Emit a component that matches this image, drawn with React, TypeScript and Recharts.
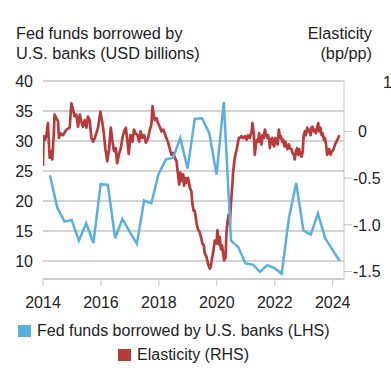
import { CartesianGrid, Line, LineChart, XAxis, YAxis } from "recharts";

// quarterly fed funds borrowed by U.S. banks, USD billions
const fundsQuarters = [
  "2014Q1", "2014Q2", "2014Q3", "2014Q4", "2015Q1", "2015Q2", "2015Q3", "2015Q4",
  "2016Q1", "2016Q2", "2016Q3", "2016Q4", "2017Q1", "2017Q2", "2017Q3", "2017Q4",
  "2018Q1", "2018Q2", "2018Q3", "2018Q4", "2019Q1", "2019Q2", "2019Q3", "2019Q4",
  "2020Q1", "2020Q2", "2020Q3", "2020Q4", "2021Q1", "2021Q2", "2021Q3", "2021Q4",
  "2022Q1", "2022Q2", "2022Q3", "2022Q4", "2023Q1", "2023Q2", "2023Q3", "2023Q4",
  "2024Q1",
];
const fundsBorrowed = [
  24.3, 18.9, 16.6, 16.8, 13.4, 16.3, 13.0, 22.8,
  22.7, 13.8, 17.0, 14.9, 12.9, 20.1, 19.6, 24.5,
  26.9, 27.2, 30.5, 25.4, 33.7, 33.8, 31.3, 24.4,
  36.5, 13.4, 12.3, 9.6, 9.4, 8.2, 9.3, 8.8,
  7.9, 17.2, 23.0, 15.1, 14.4, 17.9, 13.8, 11.9,
  10.0,
];

// elasticity (bp/pp), decimal years
const elasticityDates = [
  2014.0, 2014.02, 2014.07, 2014.12, 2014.17, 2014.23, 2014.29, 2014.32, 2014.37, 2014.4,
  2014.46, 2014.52, 2014.55, 2014.6, 2014.69, 2014.81, 2014.92, 2014.98, 2015.04, 2015.09,
  2015.15, 2015.21, 2015.27, 2015.32, 2015.38, 2015.44, 2015.5, 2015.55, 2015.61, 2015.67,
  2015.73, 2015.79, 2015.84, 2015.9, 2015.98, 2016.04, 2016.1, 2016.15, 2016.22, 2016.28,
  2016.34, 2016.4, 2016.45, 2016.51, 2016.56, 2016.63, 2016.68, 2016.74, 2016.8, 2016.86,
  2016.9, 2016.96, 2017.02, 2017.09, 2017.14, 2017.2, 2017.26, 2017.32, 2017.37, 2017.43,
  2017.49, 2017.55, 2017.63, 2017.69, 2017.74, 2017.78, 2017.82, 2017.86, 2017.92, 2017.97,
  2018.03, 2018.09, 2018.15, 2018.2, 2018.26, 2018.32, 2018.38, 2018.43, 2018.49, 2018.55,
  2018.61, 2018.66, 2018.7, 2018.74, 2018.78, 2018.84, 2018.87, 2018.92, 2018.95, 2019.01,
  2019.07, 2019.12, 2019.16, 2019.2, 2019.24, 2019.3, 2019.35, 2019.41, 2019.47, 2019.5,
  2019.55, 2019.58, 2019.64, 2019.7, 2019.76, 2019.79, 2019.84, 2019.87, 2019.93, 2019.99,
  2020.02, 2020.07, 2020.1, 2020.14, 2020.18, 2020.22, 2020.25, 2020.3, 2020.33, 2020.37,
  2020.41, 2020.45, 2020.48, 2020.53, 2020.56, 2020.6, 2020.64, 2020.68, 2020.71, 2020.76,
  2020.8, 2020.85, 2020.91, 2020.97, 2021.03, 2021.08, 2021.14, 2021.2, 2021.23, 2021.28,
  2021.31, 2021.35, 2021.39, 2021.43, 2021.46, 2021.51, 2021.54, 2021.58, 2021.62, 2021.66,
  2021.69, 2021.74, 2021.77, 2021.81, 2021.83, 2021.87, 2021.91, 2021.95, 2021.98, 2022.02,
  2022.06, 2022.1, 2022.14, 2022.18, 2022.21, 2022.26, 2022.29, 2022.33, 2022.37, 2022.41,
  2022.44, 2022.49, 2022.52, 2022.58, 2022.61, 2022.66, 2022.69, 2022.73, 2022.77, 2022.81,
  2022.84, 2022.89, 2022.92, 2022.96, 2023.0, 2023.04, 2023.07, 2023.12, 2023.15, 2023.19,
  2023.24, 2023.27, 2023.3, 2023.35, 2023.39, 2023.42, 2023.47, 2023.5, 2023.53, 2023.58,
  2023.62, 2023.65, 2023.7, 2023.73, 2023.77, 2023.81, 2023.85, 2023.88, 2023.93, 2023.96,
  2024.0, 2024.04, 2024.08, 2024.11, 2024.16, 2024.19, 2024.23,
];
const elasticity = [
  -0.37, -0.05, -0.09, -0.04, 0.09, -0.28, -0.21, -0.3, -0.04, 0.18,
  0.14, 0.11, -0.07, -0.02, -0.04, 0.02, 0.04, 0.3, 0.23, 0.16,
  0.18, 0.05, 0.18, 0.11, 0.05, 0.12, 0.04, 0.16, 0.12, -0.07,
  -0.11, -0.07, -0.02, 0.04, 0.21, 0.11, -0.02, -0.18, -0.32, -0.19,
  0.04, -0.11, -0.21, -0.18, -0.34, -0.23, -0.19, -0.07, 0.0, 0.04,
  -0.07, -0.24, -0.04, -0.11, 0.02, -0.02, -0.04, -0.11, 0.0, -0.07,
  -0.04, -0.12, -0.07, 0.02, 0.07, 0.27, 0.18, 0.12, 0.14, 0.09,
  0.05, 0.0, 0.02, -0.02, -0.07, -0.12, -0.19, -0.25, -0.23, -0.28,
  -0.32, -0.46, -0.57, -0.44, -0.53, -0.46, -0.58, -0.5, -0.55, -0.5,
  -0.6, -0.64, -0.78, -0.85, -0.85, -0.98, -1.05, -1.08, -1.15, -1.2,
  -1.22, -1.3, -1.34, -1.42, -1.47, -1.45, -1.35, -1.3, -1.17, -1.2,
  -1.06, -1.21, -1.13, -1.26, -1.22, -1.31, -1.38, -1.35, -1.1, -0.96,
  -0.89, -0.99, -0.8, -0.6, -0.45, -0.33, -0.25, -0.2, -0.15, -0.07,
  -0.07, -0.05, -0.07, -0.05, -0.09, -0.04, -0.07, 0.0, 0.09, -0.04,
  -0.25, -0.14, -0.09, -0.11, -0.02, -0.11, -0.14, -0.04, -0.07, 0.02,
  -0.02, -0.07, -0.04, -0.09, -0.18, -0.09, -0.07, -0.14, -0.16, -0.07,
  -0.09, -0.14, 0.02, -0.07, -0.05, -0.11, -0.09, -0.16, -0.11, -0.16,
  -0.19, -0.14, -0.18, -0.19, -0.23, -0.25, -0.3, -0.21, -0.18, -0.25,
  -0.19, -0.25, -0.27, -0.23, -0.04, 0.0, -0.04, 0.04, 0.0, 0.02,
  -0.04, 0.04, 0.05, 0.0, 0.02, -0.02, 0.05, 0.09, 0.0, 0.04,
  -0.04, -0.02, -0.09, -0.07, -0.14, -0.25, -0.23, -0.19, -0.25, -0.21,
  -0.21, -0.18, -0.14, -0.12, -0.09, -0.07, -0.04,
];

const yearTicks = [2014, 2016, 2018, 2020, 2022, 2024];
const lhsTicks = [10, 15, 20, 25, 30, 35, 40];
const rhsTicks = [0, -0.5, -1, -1.5];

const BLUE = "#5aafe1";
const RED = "#b83b3b";
const GREY = "#c4c4c4";
const INK = "#222";
const FONT = '"Liberation Sans", Arial, sans-serif';

const toYear = (q: string) => Number(q.slice(0, 4)) + Number(q.slice(5)) * 0.25 - 0.01;

const fundsData = fundsQuarters.map((q, i) => ({ date: toYear(q), funds: fundsBorrowed[i] }));
const elasticityData = elasticityDates.map((d, i) => ({ date: d, elasticity: elasticity[i] }));

function RightTick({ x, y, payload }: any) {
  const v = payload.value as number;
  return (
    <text x={v === 0 ? x + 5 : x} y={y} dy="0.36em" fontSize={16} fill={INK} textAnchor="start">
      {v === 0 ? "0" : v.toFixed(1)}
    </text>
  );
}

function LegendRow({ color, label, left }: { color: string; label: string; left: number }) {
  return (
    <div style={{ display: "flex", alignItems: "center", marginLeft: left, height: 24 }}>
      <span style={{ width: 13, height: 12, background: color, marginRight: 6 }} />
      <span>{label}</span>
    </div>
  );
}

export default function App() {
  return (
    <div
      style={{
        position: "absolute",
        left: 0,
        top: 0,
        width: 391,
        height: 373,
        fontFamily: FONT,
        fontSize: 16,
        color: INK,
        background: "#fff",
      }}
    >
      <div style={{ position: "absolute", left: 16, top: 23, lineHeight: "20px", fontSize: 16.3 }}>
        Fed funds borrowed by
        <br />
        U.S. banks (USD billions)
      </div>
      <div
        style={{
          position: "absolute",
          right: 19,
          top: 23,
          lineHeight: "20px",
          fontSize: 16.3,
          textAlign: "right",
        }}
      >
        Elasticity
        <br />
        (bp/pp)
      </div>
      <div style={{ position: "absolute", left: 383, top: 73, lineHeight: "20px" }}>1</div>

      <LineChart width={391} height={373} margin={{ top: 81, right: 0, bottom: 64, left: 0 }}>
        <CartesianGrid yAxisId="lhs" vertical={false} stroke={GREY} strokeWidth={1.3} />
        <XAxis
          dataKey="date"
          type="number"
          domain={[2014, 2024.39]}
          ticks={yearTicks}
          allowDataOverflow
          height={30}
          stroke={GREY}
          tickSize={7}
          tickMargin={11}
          tick={{ fontSize: 16, fill: INK }}
        />
        <YAxis
          yAxisId="lhs"
          type="number"
          domain={[7, 40]}
          ticks={lhsTicks}
          width={43}
          axisLine={false}
          tickLine={false}
          tickSize={8}
          tickMargin={2}
          tick={{ fontSize: 16, fill: INK }}
        />
        <YAxis
          yAxisId="rhs"
          orientation="right"
          type="number"
          domain={[-1.58, 0.54]}
          ticks={rhsTicks}
          width={47}
          stroke={GREY}
          tickSize={8}
          tickMargin={1}
          tick={<RightTick />}
        />
        <Line
          yAxisId="rhs"
          data={elasticityData}
          dataKey="elasticity"
          stroke={RED}
          strokeWidth={2.7}
          strokeLinejoin="round"
          dot={false}
          isAnimationActive={false}
        />
        <Line
          yAxisId="lhs"
          data={fundsData}
          dataKey="funds"
          stroke={BLUE}
          strokeWidth={2.5}
          dot={false}
          isAnimationActive={false}
        />
      </LineChart>

      <div style={{ position: "absolute", left: 0, top: 319, lineHeight: "24px" }}>
        <LegendRow color={BLUE} label="Fed funds borrowed by U.S. banks (LHS)" left={18} />
        <LegendRow color={RED} label="Elasticity (RHS)" left={118} />
      </div>
    </div>
  );
}
